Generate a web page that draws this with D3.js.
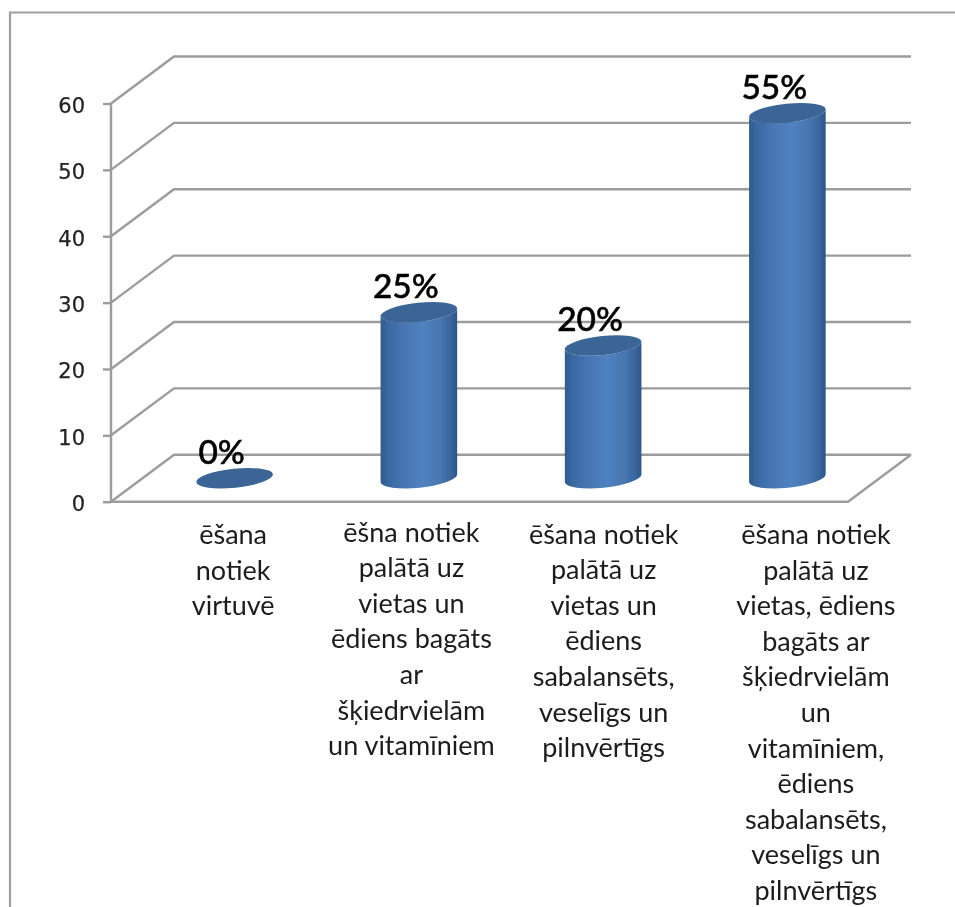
<!DOCTYPE html>
<html>
<head>
<meta charset="utf-8">
<script src="https://cdn.jsdelivr.net/npm/d3@7"></script>
<style>
html,body{margin:0;padding:0;background:#fff;overflow:hidden}
svg{display:block}
</style>
</head>
<body>
<svg id="chart" width="955" height="907"></svg>
<script>
const categories = [
  ["ēšana","notiek","virtuvē"],
  ["ēšna notiek","palātā uz","vietas un","ēdiens bagāts","ar","šķiedrvielām","un vitamīniem"],
  ["ēšana notiek","palātā uz","vietas un","ēdiens","sabalansēts,","veselīgs un","pilnvērtīgs"],
  ["ēšana notiek","palātā uz","vietas, ēdiens","bagāts ar","šķiedrvielām","un","vitamīniem,","ēdiens","sabalansēts,","veselīgs un","pilnvērtīgs"]
];
const values = [0, 25, 20, 55];
const valueLabels = ["0%", "25%", "20%", "55%"];
const yTicks = [0, 10, 20, 30, 40, 50, 60];

const svg = d3.select("#chart");
const W = 955, H = 907;
const depthX = 63, depthY = -47;
const x = d3.scaleBand().domain(d3.range(values.length)).range([111, 848]).padding(0);
const y = d3.scaleLinear().domain([0, 60]).range([501.7, 103.5]);

const defs = svg.append("defs");
const grad = defs.append("linearGradient").attr("id", "cyl").attr("x1", 0).attr("x2", 1).attr("y1", 0).attr("y2", 0);
[[0,"#2f5b8e"],[0.12,"#3a6aa3"],[0.3,"#4776b2"],[0.55,"#4f82c0"],[0.78,"#4776b0"],[0.92,"#38659c"],[1,"#2d5688"]]
  .forEach(([o,c]) => grad.append("stop").attr("offset", o).attr("stop-color", c));
const makeBlur = (id, sd) => defs.append("filter").attr("id", id)
  .attr("filterUnits", "userSpaceOnUse").attr("x", 0).attr("y", 0).attr("width", W).attr("height", H)
  .append("feGaussianBlur").attr("stdDeviation", sd);
makeBlur("soft", 0.7);
makeBlur("softT", 0.5);

svg.append("rect").attr("width", W).attr("height", H).attr("fill", "#ffffff");

// outer chart border, cropped by the image on the right and bottom
svg.append("path").attr("d", `M10,${H + 5} V12.5 H${W + 5}`).attr("fill", "none")
  .attr("stroke", "#a0a0a0").attr("stroke-width", 2.2).attr("filter", "url(#soft)");

// 3D walls
const grid = svg.append("g").attr("fill", "none").attr("stroke", "#9c9c9c").attr("stroke-width", 2.4).attr("filter", "url(#soft)");
const x0 = x.range()[0], x1 = x.range()[1];
grid.selectAll("path.g").data(yTicks).join("path").attr("class", "g")
  .attr("d", d => `M${x0},${y(d)} L${x0 + depthX},${y(d) + depthY} H${x1 + depthX}`);
grid.append("path").attr("d", `M${x0},${y(0)} H${x1} L${x1 + depthX},${y(0) + depthY}`);

// value axis (blur sits on an untransformed wrapper so its region covers the whole canvas)
const axis = d3.axisLeft(y).tickValues(yTicks).tickSize(8).tickPadding(18).tickFormat(d3.format("d"));
const axG = svg.append("g").attr("filter", "url(#softT)")
  .append("g").attr("transform", `translate(${x0},0)`).call(axis);
axG.select(".domain").attr("stroke", "#9c9c9c").attr("stroke-width", 2.4).attr("d", `M0,${y(60)} V${y(0)}`);
axG.selectAll(".tick line").attr("stroke", "#9c9c9c").attr("stroke-width", 2.4);
axG.selectAll("text").attr("font-family", "'DejaVu Sans'").attr("font-size", 21).attr("fill", "#222")
  .attr("stroke", "#222").attr("stroke-width", 0.25).attr("dy", "0.42em");

// cylinders
const rx = 38.5, ry = 9.5, tilt = -6;
const t = tilt * Math.PI / 180;
const dx = rx * Math.cos(t), dy = rx * Math.sin(t);
const midX = i => x(i) + x.bandwidth() / 2 + depthX / 2;
const midY = v => y(v) + depthY / 2;

const bars = svg.append("g").attr("filter", "url(#soft)");
bars.selectAll("path.body").data(values).join("path").attr("class", "body")
  .attr("fill", "url(#cyl)")
  .attr("d", (v, i) => {
    const cx = midX(i), top = midY(v), base = midY(0);
    return `M${cx - dx},${top - dy} L${cx - dx},${base - dy} A${rx},${ry} ${tilt} 0 0 ${cx + dx},${base + dy} L${cx + dx},${top + dy} A${rx},${ry} ${tilt} 0 1 ${cx - dx},${top - dy} Z`;
  });
bars.selectAll("ellipse.top").data(values).join("ellipse").attr("class", "top")
  .attr("rx", rx).attr("ry", ry)
  .attr("fill", "#3a6596")
  .attr("transform", (v, i) => `translate(${midX(i)},${midY(v)}) rotate(${tilt})`);

// data labels
svg.append("g").attr("filter", "url(#softT)").selectAll("text").data(valueLabels).join("text")
  .attr("x", (d, i) => midX(i) - 13)
  .attr("y", (d, i) => midY(values[i]) - 14)
  .attr("text-anchor", "middle")
  .attr("font-family", "Lato").attr("font-weight", 500).attr("font-size", 33.5)
  .attr("fill", "#000").attr("stroke", "#000").attr("stroke-width", 0.5)
  .text(d => d);

// category labels
const labelShift = [30, 24, 32, 60];
const labelStart = [544, 541.5, 543.5, 544];
const lineStep = 35.6;
const lab = svg.append("g").attr("font-family", "Lato").attr("font-size", 27).attr("fill", "#1c1c1c")
  .attr("text-anchor", "middle").attr("filter", "url(#softT)");
categories.forEach((lines, i) => {
  lab.selectAll(null).data(lines).join("text")
    .attr("x", x(i) + x.bandwidth() / 2 + labelShift[i])
    .attr("y", (d, k) => labelStart[i] + k * lineStep)
    .text(d => d);
});
</script>
</body>
</html>
